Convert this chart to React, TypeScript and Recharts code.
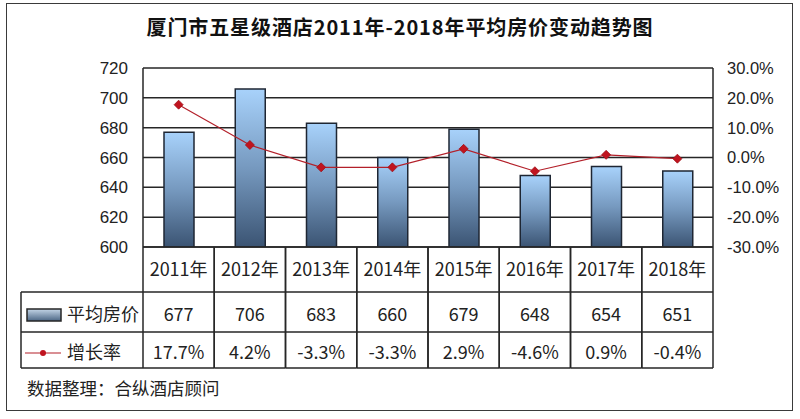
import React from 'react';
import { ComposedChart, Bar, Line, XAxis, YAxis, CartesianGrid } from 'recharts';

const categories = ['2011年', '2012年', '2013年', '2014年', '2015年', '2016年', '2017年', '2018年'];
const avgPrice = [677, 706, 683, 660, 679, 648, 654, 651];
const growthRate = [17.7, 4.2, -3.3, -3.3, 2.9, -4.6, 0.9, -0.4];
const leftTicks = [600, 620, 640, 660, 680, 700, 720];
const rightTicks = [-30, -20, -10, 0, 10, 20, 30];
const seriesNames = ['平均房价', '增长率'];
const titleText = '厦门市五星级酒店2011年-2018年平均房价变动趋势图';
const footerText = '数据整理：合纵酒店顾问';

const data = categories.map((c, i) => ({ name: c, price: avgPrice[i], growth: growthRate[i] }));

const W = 800;
const H = 419;
const LEFT_W = 143;
const RIGHT_W = 87;
const TOP = 68;
const XAXIS_H = 172;
const PLOT_W = W - LEFT_W - RIGHT_W;
const COL_W = PLOT_W / categories.length;
const TABLE_LEFT = 21;
const LINE_C = '#262626';
const RED = '#b3202a';
const CJK = '"Noto Sans CJK SC", "Noto Sans", sans-serif';
const LAT = '"Liberation Sans", Arial, sans-serif';

const fmtPct = (v: number) => `${v.toFixed(1)}%`;

const Diamond = (props: any) => {
  const { cx, cy } = props;
  if (cx == null || cy == null) return null;
  const r = 4.5;
  return (
    <path
      d={`M${cx},${cy - r}L${cx + r},${cy}L${cx},${cy + r}L${cx - r},${cy}Z`}
      fill="#c0141f"
      stroke="#a01018"
      strokeWidth={0.8}
    />
  );
};

const TableTick = (props: any) => {
  const { x, y, payload } = props;
  const i: number = props.index ?? payload.index ?? 0;
  const half = COL_W / 2;
  const l = x - half;
  const r = x + half;
  const r1 = y + 45;
  const r2 = y + 85;
  const r3 = y + 121;
  const lineProps = { stroke: LINE_C, strokeWidth: 1.5 };
  const textProps = {
    fontFamily: CJK,
    fontSize: 18,
    fill: '#222',
    textAnchor: 'middle' as const,
    dominantBaseline: 'central' as const,
  };
  return (
    <g>
      <line x1={l} y1={y} x2={l} y2={r3} {...lineProps} />
      <line x1={r} y1={y} x2={r} y2={r3} {...lineProps} />
      <line x1={l} y1={r1} x2={r} y2={r1} {...lineProps} />
      <line x1={l} y1={r2} x2={r} y2={r2} {...lineProps} />
      <line x1={l} y1={r3} x2={r} y2={r3} {...lineProps} />
      <text x={x} y={y + 21} {...textProps}>{categories[i]}</text>
      <text x={x} y={y + 66} {...textProps}>{avgPrice[i]}</text>
      <text x={x} y={y + 104} {...textProps}>{fmtPct(growthRate[i])}</text>
      {i === 0 && (
        <g>
          <line x1={TABLE_LEFT} y1={r1} x2={l} y2={r1} {...lineProps} />
          <line x1={TABLE_LEFT} y1={r2} x2={l} y2={r2} {...lineProps} />
          <line x1={TABLE_LEFT} y1={r3} x2={l} y2={r3} {...lineProps} />
          <line x1={TABLE_LEFT} y1={r1} x2={TABLE_LEFT} y2={r3} {...lineProps} />
          <rect x={TABLE_LEFT + 6} y={y + 62} width={34} height={12} fill="url(#legendGrad)" stroke={LINE_C} strokeWidth={1.5} />
          <text x={TABLE_LEFT + 46} y={y + 66} {...textProps} textAnchor="start">{seriesNames[0]}</text>
          <line x1={TABLE_LEFT + 4} y1={y + 106} x2={TABLE_LEFT + 40} y2={y + 106} stroke={RED} strokeWidth={1.2} />
          <circle cx={TABLE_LEFT + 22} cy={y + 106} r={3} fill="#c0141f" />
          <text x={TABLE_LEFT + 46} y={y + 104} {...textProps} textAnchor="start">{seriesNames[1]}</text>
        </g>
      )}
    </g>
  );
};

export default function App() {
  return (
    <div style={{ position: 'absolute', left: 0, top: 0, width: W, height: H, background: '#fff' }}>
      <div
        style={{
          position: 'absolute',
          left: 6,
          top: 3,
          width: 787,
          height: 408,
          boxSizing: 'border-box',
          border: '1.5px solid #3a3a3a',
        }}
      />
      <div
        style={{
          position: 'absolute',
          left: 0,
          top: 16,
          width: W,
          textAlign: 'center',
          fontFamily: CJK,
          fontWeight: 'bold',
          fontSize: 20,
          lineHeight: '22px',
          letterSpacing: 0.9,
          color: '#111',
        }}
      >
        {titleText}
      </div>
      <div
        style={{
          position: 'absolute',
          left: 27,
          top: 377,
          fontFamily: CJK,
          fontSize: 17.5,
          lineHeight: '22px',
          color: '#222',
        }}
      >
        {footerText}
      </div>
      <div style={{ position: 'absolute', left: 0, top: 0 }}>
        <ComposedChart width={W} height={H} data={data} margin={{ top: TOP, right: 0, bottom: 0, left: 0 }}>
          <defs>
            <linearGradient id="barGrad" x1="0" y1="0" x2="0" y2="1">
              <stop offset="0%" stopColor="#a8d2fb" />
              <stop offset="50%" stopColor="#7699bf" />
              <stop offset="100%" stopColor="#3b5473" />
            </linearGradient>
            <linearGradient id="legendGrad" x1="0" y1="0" x2="0" y2="1">
              <stop offset="0%" stopColor="#c4d6e8" />
              <stop offset="100%" stopColor="#4b6685" />
            </linearGradient>
          </defs>
          <CartesianGrid yAxisId="left" vertical={false} horizontal stroke={LINE_C} strokeWidth={1.5} />
          <XAxis
            dataKey="name"
            height={XAXIS_H}
            interval={0}
            tickSize={0}
            tickMargin={0}
            axisLine={{ stroke: LINE_C, strokeWidth: 1.5 }}
            tickLine={false}
            tick={<TableTick />}
          />
          <YAxis
            yAxisId="left"
            domain={[600, 720]}
            ticks={leftTicks}
            width={LEFT_W}
            tickSize={0}
            tickMargin={15}
            tickLine={false}
            axisLine={{ stroke: LINE_C, strokeWidth: 1.5 }}
            tick={{ fontSize: 17, fill: '#222', fontFamily: LAT }}
            allowDataOverflow
          />
          <YAxis
            yAxisId="right"
            orientation="right"
            domain={[-30, 30]}
            ticks={rightTicks}
            tickFormatter={fmtPct}
            width={RIGHT_W}
            tickSize={0}
            tickMargin={14}
            tickLine={false}
            axisLine={{ stroke: LINE_C, strokeWidth: 1.5 }}
            tick={{ fontSize: 16.5, fill: '#222', fontFamily: LAT, textAnchor: 'start' }}
          />
          <Bar
            yAxisId="left"
            dataKey="price"
            name={seriesNames[0]}
            barSize={30}
            fill="url(#barGrad)"
            stroke="#1e2633"
            strokeWidth={1.5}
            isAnimationActive={false}
          />
          <Line
            yAxisId="right"
            dataKey="growth"
            name={seriesNames[1]}
            type="linear"
            stroke={RED}
            strokeWidth={1.2}
            dot={<Diamond />}
            activeDot={false}
            isAnimationActive={false}
          />
        </ComposedChart>
      </div>
    </div>
  );
}
